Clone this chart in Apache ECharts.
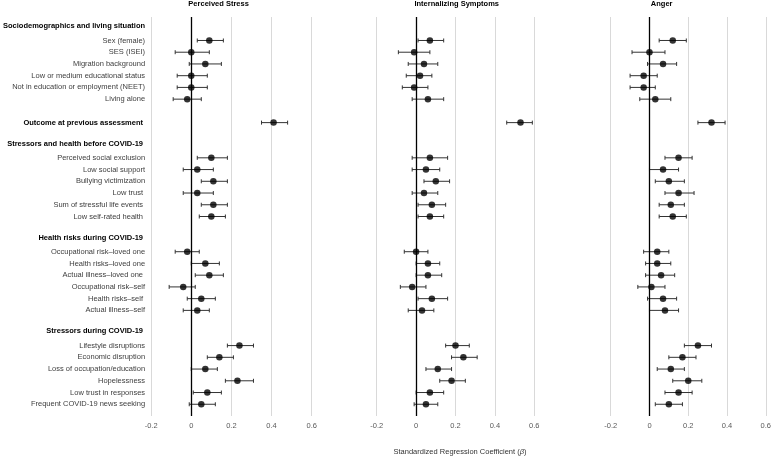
<!DOCTYPE html>
<html><head><meta charset="utf-8">
<script src="https://cdn.jsdelivr.net/npm/echarts@6/dist/echarts.min.js"></script>
<style>html,body{margin:0;padding:0;background:#fff}#c{width:774px;height:457px}</style>
</head><body><div id="c"></div>
<script>
const rowLabels = [
  'Sociodemographics and living situation',
  'Sex (female)','SES (ISEI)','Migration background','Low or medium educational status','Not in education or employment (NEET)','Living alone',
  '',
  'Outcome at previous assessment ',
  '',
  'Stressors and health before COVID-19 ',
  'Perceived social exclusion','Low social support','Bullying victimization','Low trust ','Sum of stressful life events ','Low self-rated health ',
  '',
  'Health risks during COVID-19 ',
  'Occupational risk\u2013loved one','Health risks\u2013loved one','Actual illness\u2013loved one ','Occupational risk\u2013self','Health risks\u2013self ','Actual illness\u2013self',
  '',
  'Stressors during COVID-19 ',
  'Lifestyle disruptions','Economic disruption','Loss of occupation/education','Hopelessness','Low trust in responses','Frequent COVID-19 news seeking'
];
const sectionHeaders = ['Sociodemographics and living situation','Stressors and health before COVID-19 ','Health risks during COVID-19 ','Stressors during COVID-19 '];
const boldDataRows = ['Outcome at previous assessment '];

const outcomes = ['Perceived Stress','Internalizing Symptoms','Anger'];
const xTicks = [-0.2, 0, 0.2, 0.4, 0.6];

const psEst = [null,0.09,0.00,0.07,0.00,0.00,-0.02,null,0.41,null,null,0.10,0.03,0.11,0.03,0.11,0.10,null,null,-0.02,0.07,0.09,-0.04,0.05,0.03,null,null,0.24,0.14,0.07,0.23,0.08,0.05];
const psLo  = [null,0.03,-0.08,-0.01,-0.07,-0.07,-0.09,null,0.35,null,null,0.03,-0.04,0.05,-0.04,0.05,0.04,null,null,-0.08,0.00,0.02,-0.11,-0.02,-0.04,null,null,0.18,0.08,0.00,0.17,0.01,-0.01];
const psHi  = [null,0.16,0.09,0.15,0.08,0.08,0.05,null,0.48,null,null,0.18,0.11,0.18,0.11,0.18,0.17,null,null,0.04,0.14,0.16,0.02,0.12,0.09,null,null,0.31,0.21,0.13,0.31,0.15,0.12];

const isEst = [null,0.07,-0.01,0.04,0.02,-0.01,0.06,null,0.53,null,null,0.07,0.05,0.10,0.04,0.08,0.07,null,null,0.00,0.06,0.06,-0.02,0.08,0.03,null,null,0.20,0.24,0.11,0.18,0.07,0.05];
const isLo  = [null,0.01,-0.09,-0.04,-0.05,-0.07,-0.02,null,0.46,null,null,-0.02,-0.02,0.04,-0.02,0.01,0.01,null,null,-0.06,0.00,0.00,-0.08,0.01,-0.04,null,null,0.15,0.18,0.05,0.12,0.00,-0.01];
const isHi  = [null,0.14,0.07,0.11,0.08,0.06,0.14,null,0.59,null,null,0.16,0.12,0.17,0.11,0.15,0.14,null,null,0.06,0.12,0.13,0.05,0.16,0.09,null,null,0.27,0.31,0.18,0.25,0.14,0.11];

const anEst = [null,0.12,0.00,0.07,-0.03,-0.03,0.03,null,0.32,null,null,0.15,0.07,0.10,0.15,0.11,0.12,null,null,0.04,0.04,0.06,0.01,0.07,0.08,null,null,0.25,0.17,0.11,0.20,0.15,0.10];
const anLo  = [null,0.05,-0.09,-0.01,-0.10,-0.10,-0.05,null,0.25,null,null,0.08,0.00,0.03,0.08,0.05,0.05,null,null,-0.03,-0.02,-0.02,-0.06,-0.01,0.00,null,null,0.18,0.10,0.04,0.12,0.08,0.03];
const anHi  = [null,0.19,0.08,0.14,0.04,0.03,0.11,null,0.39,null,null,0.22,0.15,0.18,0.23,0.18,0.19,null,null,0.10,0.11,0.13,0.08,0.14,0.15,null,null,0.32,0.24,0.18,0.27,0.22,0.17];

const est = [psEst, isEst, anEst], lo = [psLo, isLo, anLo], hi = [psHi, isHi, anHi];

const FONT = 'Liberation Sans, Arial, sans-serif';
const gridsPx = [{left:149,width:162.7},{left:376.7,width:157.6},{left:610.7,width:158.3}];
const titleCenters = [218.6, 456.7, 661.7];

const chart = echarts.init(document.getElementById('c'), null, {renderer:'canvas'});
const option = {
  animation:false,
  textStyle:{fontFamily:FONT},
  title: outcomes.map((t,k)=>({text:t, left:titleCenters[k], top:0, padding:0, textAlign:'center',
     textStyle:{fontSize:7.5,fontWeight:'bold',color:'#000',fontFamily:FONT}}))
    .concat([{text:'Standardized Regression Coefficient ({i|\u03b2})', left:460, top:447.5, padding:0, textAlign:'center',
      textStyle:{fontSize:7.5,fontWeight:'normal',color:'#333',fontFamily:FONT,
        rich:{i:{fontStyle:'italic',fontSize:7.5,color:'#333',fontFamily:FONT}}}}]),
  grid: gridsPx.map(g=>({left:g.left,width:g.width,top:17,height:399,containLabel:false})),
  xAxis: gridsPx.map((g,k)=>({type:'value',gridIndex:k,min:-0.2,max:0.6,interval:0.2,
    axisLine:{show:false},axisTick:{show:false},
    splitLine:{show:true,lineStyle:{color:'#d9d9d9',width:1}},
    axisLabel:{fontSize:7.5,color:'#595959',margin:6,fontFamily:FONT,
      formatter:v=>Math.abs(v)<1e-9?'0':(Math.round(v*10)/10).toString()}})),
  yAxis: gridsPx.map((g,k)=>({type:'value',gridIndex:k,min:-1,max:33,interval:1,inverse:true,
    axisLine:{show:false},axisTick:{show:false},splitLine:{show:false},
    axisLabel:{show:k===0,margin:6,fontSize:7.5,color:'#404040',fontFamily:FONT,
      formatter:v=>{const s=rowLabels[v]; if(!s) return '';
        if(sectionHeaders.includes(s)) return '{h|'+s+'}';
        if(boldDataRows.includes(s)) return '{o|'+s+'}';
        return s;},
      rich:{h:{fontWeight:'bold',color:'#000',fontSize:7.5,fontFamily:FONT,padding:[0,0,5,0]},
            o:{fontWeight:'bold',color:'#000',fontSize:7.5,fontFamily:FONT}}}})),
  series: []
};
for(let k=0;k<3;k++){
  const ebData=[], ptData=[];
  for(let i=0;i<rowLabels.length;i++){
    if(est[k][i]==null) continue;
    ebData.push([lo[k][i],hi[k][i],i]);
    ptData.push([est[k][i],i]);
  }
  option.series.push({type:'line',xAxisIndex:k,yAxisIndex:k,data:[],silent:true,
    markLine:{silent:true,symbol:'none',label:{show:false},lineStyle:{color:'#000',width:1.3,type:'solid'},data:[{xAxis:0}]}});
  option.series.push({type:'custom',xAxisIndex:k,yAxisIndex:k,data:ebData,encode:{x:[0,1],y:2},silent:true,
    renderItem:(params,api)=>{
      const a=api.coord([api.value(0),api.value(2)]), b=api.coord([api.value(1),api.value(2)]);
      const st={stroke:'#333',lineWidth:1};
      return {type:'group',children:[
        {type:'line',shape:{x1:a[0],y1:a[1],x2:b[0],y2:b[1]},style:st},
        {type:'line',shape:{x1:a[0],y1:a[1]-2,x2:a[0],y2:a[1]+2},style:st},
        {type:'line',shape:{x1:b[0],y1:b[1]-2,x2:b[0],y2:b[1]+2},style:st}]};
    }});
  option.series.push({type:'scatter',xAxisIndex:k,yAxisIndex:k,data:ptData,symbol:'circle',symbolSize:6.5,
    itemStyle:{color:'#000'},z:5});
}
chart.setOption(option);
</script></body></html>
